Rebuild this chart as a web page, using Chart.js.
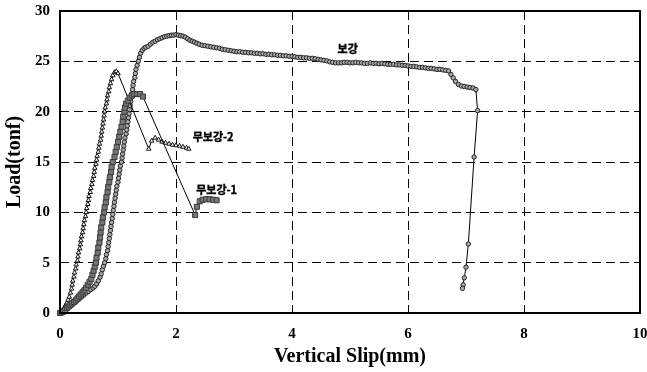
<!DOCTYPE html>
<html>
<head>
<meta charset="utf-8">
<script src="https://cdn.jsdelivr.net/npm/chart.js@4/dist/chart.umd.min.js"></script>
<style>
  html, body { margin: 0; padding: 0; background: #fff; }
  canvas { display: block; }
</style>
</head>
<body>
<canvas id="c" width="647" height="372"></canvas>
<script>
// ---- data ----
const seriesNames = ['보강', '무보강-1', '무보강-2'];
const xTicks = [0, 2, 4, 6, 8, 10];
const yTicks = [0, 5, 10, 15, 20, 25, 30];

// 보강 (circles)
const bogangSlip = [0,0.02,0.04,0.06,0.08,0.10,0.12,0.14,0.17,0.20,0.23,0.26,0.29,0.33,0.37,0.41,0.45,0.49,0.53,0.57,0.60,0.63,0.66,0.69,0.71,0.73,0.75,0.77,0.79,0.80,0.82,0.83,0.84,0.85,0.86,0.87,0.88,0.89,0.90,0.91,0.92,0.93,0.94,0.95,0.96,0.97,0.98,1.00,1.01,1.02,1.03,1.04,1.06,1.07,1.08,1.09,1.10,1.11,1.12,1.14,1.15,1.16,1.17,1.18,1.19,1.20,1.21,1.22,1.23,1.24,1.25,1.26,1.27,1.29,1.30,1.31,1.33,1.35,1.37,1.39,1.42,1.45,1.48,1.52,1.56,1.60,1.64,1.68,1.72,1.76,1.80,1.84,1.88,1.92,1.96,2.00,2.04,2.08,2.12,2.16,2.20,2.24,2.28,2.32,2.36,2.40,2.45,2.50,2.55,2.60,2.65,2.70,2.75,2.80,2.85,2.90,2.95,3.00,3.05,3.10,3.15,3.20,3.25,3.30,3.35,3.40,3.45,3.50,3.55,3.60,3.65,3.70,3.75,3.80,3.85,3.90,3.95,4.00,4.05,4.10,4.15,4.20,4.25,4.30,4.35,4.40,4.45,4.50,4.55,4.60,4.65,4.70,4.75,4.80,4.85,4.90,4.95,5.00,5.05,5.10,5.15,5.20,5.25,5.30,5.35,5.40,5.45,5.50,5.55,5.60,5.65,5.70,5.75,5.80,5.85,5.90,5.95,6.00,6.05,6.10,6.15,6.20,6.25,6.30,6.35,6.40,6.45,6.50,6.55,6.60,6.65,6.70,6.74,6.78,6.82,6.87,6.92,6.97,7.02,7.07,7.12,7.17,7.20,7.14,7.04,7.00,6.97,6.95,6.94];
const bogangLoad = [0,0.05,0.12,0.2,0.28,0.36,0.44,0.52,0.65,0.78,0.92,1.05,1.2,1.38,1.58,1.78,1.98,2.15,2.32,2.48,2.65,2.9,3.2,3.55,3.9,4.3,4.65,5.0,5.4,5.8,6.2,6.6,7.0,7.4,7.8,8.2,8.6,9.0,9.4,9.8,10.2,10.6,11.0,11.4,11.8,12.2,12.6,13.0,13.4,13.8,14.2,14.6,15.0,15.4,15.8,16.2,16.6,17.0,17.4,17.8,18.2,18.6,19.0,19.4,19.8,20.2,20.6,21.0,21.4,21.8,22.2,22.6,23.0,23.4,23.8,24.2,24.6,25.0,25.4,25.8,26.1,26.3,26.4,26.5,26.7,26.9,27.0,27.15,27.25,27.35,27.45,27.5,27.55,27.6,27.6,27.65,27.6,27.55,27.5,27.4,27.25,27.1,27.0,26.9,26.8,26.7,26.6,26.55,26.5,26.45,26.4,26.35,26.3,26.2,26.15,26.1,26.05,26.0,25.95,25.95,25.9,25.9,25.85,25.85,25.8,25.8,25.75,25.75,25.7,25.7,25.65,25.65,25.6,25.6,25.55,25.55,25.5,25.5,25.45,25.4,25.4,25.35,25.35,25.3,25.3,25.25,25.2,25.15,25.1,25.05,24.95,24.9,24.85,24.85,24.85,24.9,24.9,24.85,24.85,24.9,24.85,24.85,24.8,24.8,24.85,24.8,24.8,24.75,24.8,24.75,24.7,24.7,24.7,24.65,24.65,24.6,24.6,24.55,24.5,24.5,24.45,24.4,24.4,24.35,24.3,24.3,24.25,24.2,24.2,24.15,24.1,24.05,23.7,23.35,23.0,22.7,22.55,22.5,22.45,22.4,22.35,22.2,20.1,15.5,6.85,4.55,3.5,2.8,2.45];

// 무보강-1 (squares)
const mu1Slip = [0,0.03,0.06,0.09,0.12,0.15,0.18,0.21,0.24,0.27,0.30,0.33,0.36,0.39,0.42,0.45,0.48,0.51,0.54,0.56,0.58,0.60,0.62,0.63,0.65,0.66,0.68,0.69,0.70,0.71,0.73,0.74,0.76,0.77,0.79,0.80,0.82,0.83,0.85,0.86,0.88,0.89,0.91,0.94,0.96,0.98,1.00,1.02,1.04,1.06,1.08,1.09,1.11,1.12,1.14,1.17,1.20,1.24,1.28,1.33,1.38,1.43,2.33,2.36,2.41,2.46,2.52,2.58,2.64,2.70];
const mu1Load = [0,0.05,0.15,0.3,0.5,0.65,0.8,0.95,1.1,1.25,1.45,1.65,1.85,2.05,2.25,2.5,2.8,3.1,3.4,3.8,4.2,4.6,5.0,5.5,6.0,6.5,7.0,7.5,8.0,8.5,9.0,9.5,10.0,10.5,11.0,11.5,12.0,12.5,13.0,13.5,14.0,14.5,15.0,15.5,16.0,16.5,17.0,17.5,18.0,18.5,19.0,19.5,20.0,20.4,20.8,21.1,21.4,21.6,21.75,21.75,21.75,21.5,9.73,10.55,11.1,11.25,11.3,11.3,11.25,11.2];

// 무보강-2 (triangles)
const mu2Slip = [0,0.02,0.04,0.06,0.08,0.10,0.12,0.14,0.16,0.18,0.20,0.21,0.22,0.24,0.25,0.27,0.28,0.30,0.31,0.32,0.34,0.35,0.36,0.37,0.39,0.40,0.41,0.42,0.44,0.45,0.46,0.48,0.49,0.50,0.52,0.53,0.55,0.56,0.58,0.59,0.60,0.62,0.63,0.64,0.66,0.67,0.68,0.70,0.71,0.72,0.73,0.74,0.75,0.76,0.77,0.78,0.80,0.81,0.82,0.84,0.85,0.87,0.89,0.91,0.94,0.97,1.00,1.53,1.58,1.64,1.70,1.76,1.82,1.88,1.94,2.00,2.06,2.12,2.18,2.22];
const mu2Load = [0,0.1,0.25,0.4,0.6,0.8,1.0,1.3,1.6,2.0,2.4,2.8,3.2,3.6,4.0,4.4,4.8,5.2,5.6,6.0,6.4,6.8,7.2,7.6,8.0,8.4,8.8,9.2,9.6,10.0,10.4,10.8,11.2,11.6,12.0,12.4,12.8,13.2,13.6,14.0,14.4,14.8,15.2,15.6,16.0,16.4,16.8,17.2,17.6,18.0,18.4,18.8,19.2,19.6,20.0,20.4,20.8,21.2,21.6,22.0,22.4,22.8,23.2,23.6,23.9,24.0,23.8,16.3,17.1,17.4,17.2,17.0,16.9,16.8,16.7,16.65,16.6,16.5,16.4,16.3];

// curve-label anchors (data coordinates)
const labelSlip = [4.96, 2.7, 2.64];
const labelLoad = [26.2, 12.2, 17.5];

const toPts = (xs, ys) => xs.map((x, i) => ({ x: x, y: ys[i] }));

const framePlugin = {
  id: 'frame',
  afterDatasetsDraw(chart) {
    const { ctx, chartArea: a, scales } = chart;
    ctx.save();
    ctx.strokeStyle = '#000';
    ctx.lineWidth = 2;
    ctx.strokeRect(a.left, a.top, a.right - a.left, a.bottom - a.top);
    ctx.fillStyle = '#000';
    ctx.strokeStyle = '#000';
    ctx.lineWidth = 0.4;
    ctx.font = 'bold 11px "Noto Sans CJK KR"';
    ctx.textAlign = 'center';
    ctx.textBaseline = 'middle';
    seriesNames.forEach((n, i) => {
      const px = scales.x.getPixelForValue(labelSlip[i]);
      const py = scales.y.getPixelForValue(labelLoad[i]);
      ctx.fillText(n, px, py);
      ctx.strokeText(n, px, py);
    });
    ctx.restore();
  }
};

const serif = '"Liberation Serif", "Times New Roman", serif';

new Chart(document.getElementById('c'), {
  type: 'scatter',
  data: {
    datasets: [
      {
        label: seriesNames[1],
        data: toPts(mu1Slip, mu1Load),
        showLine: true,
        borderColor: '#000',
        borderWidth: 1,
        pointStyle: 'rect',
        pointRadius: 3.6,
        pointBackgroundColor: '#777',
        pointBorderColor: '#3a3a3a',
        pointBorderWidth: 1,
        clip: false
      },
      {
        label: seriesNames[2],
        data: toPts(mu2Slip, mu2Load),
        showLine: true,
        borderColor: '#000',
        borderWidth: 1,
        pointStyle: 'triangle',
        pointRadius: 2.6,
        pointBackgroundColor: '#fff',
        pointBorderColor: '#111',
        pointBorderWidth: 1,
        clip: false
      },
      {
        label: seriesNames[0],
        data: toPts(bogangSlip, bogangLoad),
        showLine: true,
        borderColor: '#000',
        borderWidth: 1,
        pointStyle: 'circle',
        pointRadius: 2.2,
        pointBackgroundColor: '#aaa',
        pointBorderColor: '#222',
        pointBorderWidth: 1,
        clip: false
      }
    ]
  },
  options: {
    responsive: false,
    animation: false,
    layout: { padding: { left: 0, right: 7, top: 11, bottom: 0 } },
    plugins: { legend: { display: false }, tooltip: { enabled: false } },
    scales: {
      x: {
        type: 'linear',
        min: 0, max: 10,
        afterFit: s => { s.height = 59; s.paddingLeft = 0; s.paddingRight = 0; },
        afterBuildTicks: s => { s.ticks = xTicks.map(v => ({ value: v })); },
        ticks: { color: '#000', padding: 12, font: { family: serif, size: 15, weight: 'bold' } },
        grid: { color: '#000', lineWidth: 1, drawTicks: false },
        border: { display: false, dash: [9, 5] },
        title: { display: true, text: 'Vertical Slip(mm)', color: '#000', padding: { top: 0, bottom: 3 }, font: { family: serif, size: 20, weight: 'bold' } }
      },
      y: {
        type: 'linear',
        min: 0, max: 30,
        afterFit: s => { s.width = 60; s.paddingTop = 0; s.paddingBottom = 0; },
        afterBuildTicks: s => { s.ticks = yTicks.map(v => ({ value: v })); },
        ticks: { color: '#000', padding: 10, font: { family: serif, size: 15, weight: 'bold' } },
        grid: { color: '#000', lineWidth: 1, drawTicks: false },
        border: { display: false, dash: [9, 5] },
        title: { display: true, text: 'Load(tonf)', color: '#000', padding: { top: 3, bottom: 0 }, font: { family: serif, size: 20, weight: 'bold' } }
      }
    }
  },
  plugins: [framePlugin]
});
</script>
</body>
</html>
